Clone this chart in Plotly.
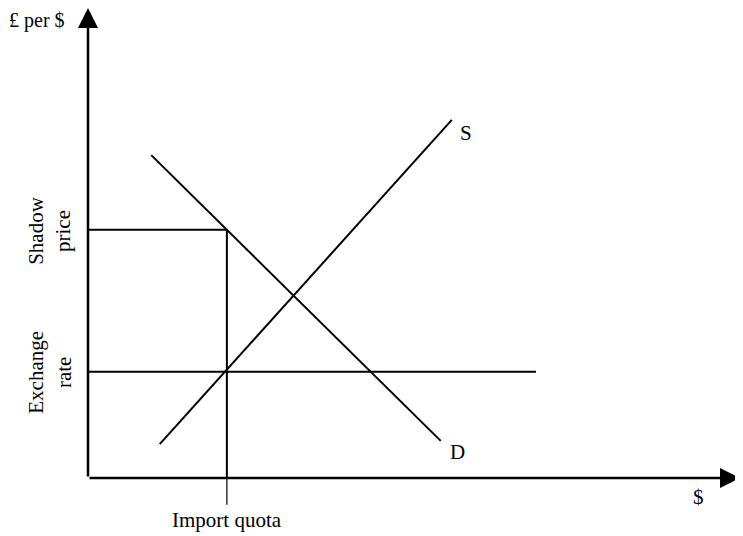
import plotly.graph_objects as go

# Economic diagram values (arbitrary units)
quota = 2.13            # import quota quantity
shadow_price = 5.28     # shadow price level
exchange_rate = 2.26    # official exchange rate
rate_line_end = 6.87    # extent of exchange-rate line
supply_x = [1.10, 5.58]
supply_y = [0.72, 7.62]
demand_x = [0.97, 5.41]
demand_y = [6.87, 0.79]
x_axis_end = 10.0
y_axis_end = 10.0

FONT = "Liberation Serif"
BLACK = "#000000"

fig = go.Figure()

def seg(xs, ys, w=2.0):
    fig.add_trace(go.Scatter(x=xs, y=ys, mode="lines",
                             line=dict(color=BLACK, width=w),
                             hoverinfo="skip", showlegend=False))

# Supply and demand
seg(supply_x, supply_y)
seg(demand_x, demand_y)
# Shadow price horizontal and quota vertical
seg([0, quota], [shadow_price, shadow_price])
seg([quota, quota], [0, shadow_price])
seg([quota, quota], [0, -0.57], 1.2)
# Exchange rate line
seg([0, rate_line_end], [exchange_rate, exchange_rate])

# Axes as arrows
arrow_common = dict(showarrow=True, arrowhead=2, arrowsize=1.6, arrowwidth=2.5,
                    arrowcolor=BLACK, text="", xref="x", yref="y",
                    axref="x", ayref="y", standoff=0)
fig.add_annotation(x=0, y=y_axis_end, ax=0, ay=0, **arrow_common)
fig.add_annotation(x=x_axis_end, y=0, ax=0, ay=0, **arrow_common)

def label(x, y, text, angle=0, size=21):
    fig.add_annotation(x=x, y=y, text=text, showarrow=False, textangle=angle,
                       font=dict(family=FONT, size=size, color=BLACK),
                       xref="x", yref="y", xanchor="center", yanchor="middle")

label(-0.78, 9.74, "£ per $", size=20)
label(-0.583, shadow_price, "Shadow<br>price", angle=-90)
label(-0.583, exchange_rate, "Exchange<br>rate", angle=-90)
label(quota, -0.894, "Import quota")
label(9.37, -0.40, "$")
label(5.80, 7.34, "S")
label(5.66, 0.55, "D")

# page has an 8px body margin; compensate so page pixels line up
OFF = 8
fig.update_xaxes(range=[(OFF-88)/65.2, (743+OFF-88)/65.2], visible=False)
fig.update_yaxes(range=[(478-536-OFF)/47, (478-OFF)/47], visible=False)
fig.update_layout(width=743, height=536, margin=dict(l=0, r=0, t=0, b=0),
                  plot_bgcolor="white", paper_bgcolor="white",
                  font=dict(family=FONT))

fig.write_html("out.html")
